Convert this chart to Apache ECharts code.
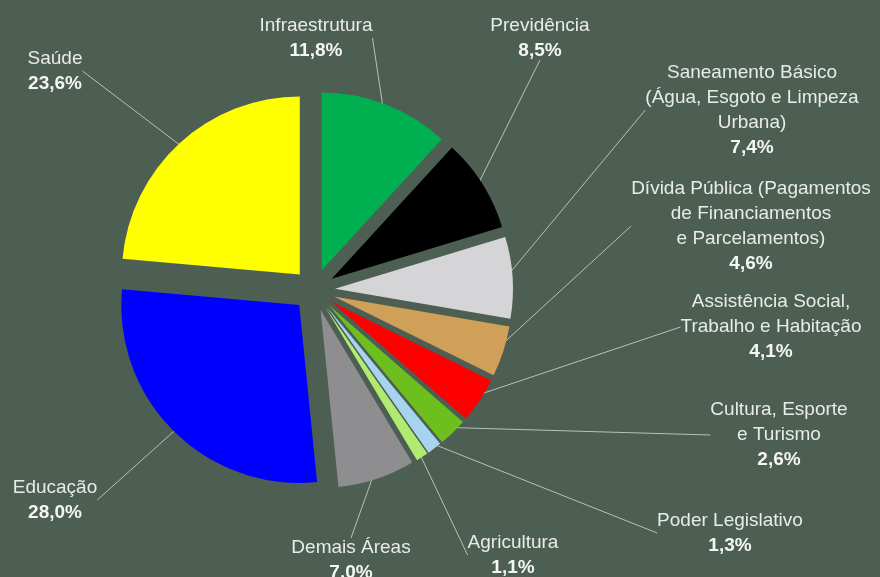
<!DOCTYPE html>
<html>
<head>
<meta charset="utf-8">
<script src="https://cdn.jsdelivr.net/npm/echarts@6/dist/echarts.min.js"></script>
<style>
html,body{margin:0;padding:0;background:#4d5e52;}
#chart{width:880px;height:577px;}
</style>
</head>
<body>
<div id="chart"></div>
<script>
// Categories (clockwise from 12 o'clock)
const categories = [
  'Infraestrutura',
  'Previdência',
  'Saneamento Básico\n(Água, Esgoto e Limpeza\nUrbana)',
  'Dívida Pública (Pagamentos\nde Financiamentos\ne Parcelamentos)',
  'Assistência Social,\nTrabalho e Habitação',
  'Cultura, Esporte\ne Turismo',
  'Poder Legislativo',
  'Agricultura',
  'Demais Áreas',
  'Educação',
  'Saúde'
];
// Shares in percent
const values = [11.8, 8.5, 7.4, 4.6, 4.1, 2.6, 1.3, 1.1, 7.0, 28.0, 23.6];
const colors = ['#00b050', '#000000', '#d5d5d8', '#d09f58', '#ff0000', '#6cbf1c',
                '#a6d4ef', '#b0ea70', '#8e8d8f', '#0000ff', '#ffff00'];
// Label block centres (layout only)
const labelPos = [
  [316, 38], [540, 38], [752, 110], [751, 226], [771, 327], [779, 435],
  [730, 533], [513, 555], [351, 560], [55, 500], [55, 71]
];

const chart = echarts.init(document.getElementById('chart'), null, {renderer: 'canvas'});
const font = '"Liberation Sans", Arial, sans-serif';
const fmt = p => '{n|' + p.name.split('\n').join('}\n{n|') + '}\n{v|' + p.value.toFixed(1).replace('.', ',') + '%}';

chart.setOption({
  backgroundColor: '#4d5e52',
  animation: false,
  series: [{
    // exploded slices
    type: 'pie',
    center: [314, 290],
    radius: 178,
    startAngle: 90,
    clockwise: true,
    selectedMode: 'multiple',
    selectedOffset: 21,
    silent: true,
    emphasis: {disabled: true},
    select: {itemStyle: {}},
    itemStyle: {borderWidth: 0},
    label: {show: false},
    labelLine: {show: false},
    data: values.map((v, i) => ({
      name: categories[i],
      value: v,
      selected: true,
      itemStyle: {color: colors[i]}
    }))
  }, {
    // same data, transparent, carries the labels and leader lines
    type: 'pie',
    center: [314, 290],
    radius: 192,
    startAngle: 90,
    clockwise: true,
    silent: true,
    avoidLabelOverlap: false,
    emphasis: {disabled: true},
    itemStyle: {color: 'rgba(0,0,0,0)', borderWidth: 0},
    label: {
      show: true,
      position: 'outside',
      formatter: fmt,
      rich: {
        n: {fontFamily: font, fontSize: 19, color: '#e8ece8', lineHeight: 25, align: 'center'},
        v: {fontFamily: font, fontSize: 19, fontWeight: 'bold', color: '#f4f6f4', lineHeight: 25, align: 'center'}
      }
    },
    labelLine: {show: true, length: 10, length2: 0, lineStyle: {color: '#b8c2bc', width: 1}},
    labelLayout: params => ({
      x: labelPos[params.dataIndex][0],
      y: labelPos[params.dataIndex][1],
      align: 'center',
      verticalAlign: 'middle'
    }),
    data: values.map((v, i) => ({name: categories[i], value: v}))
  }]
});
</script>
</body>
</html>
